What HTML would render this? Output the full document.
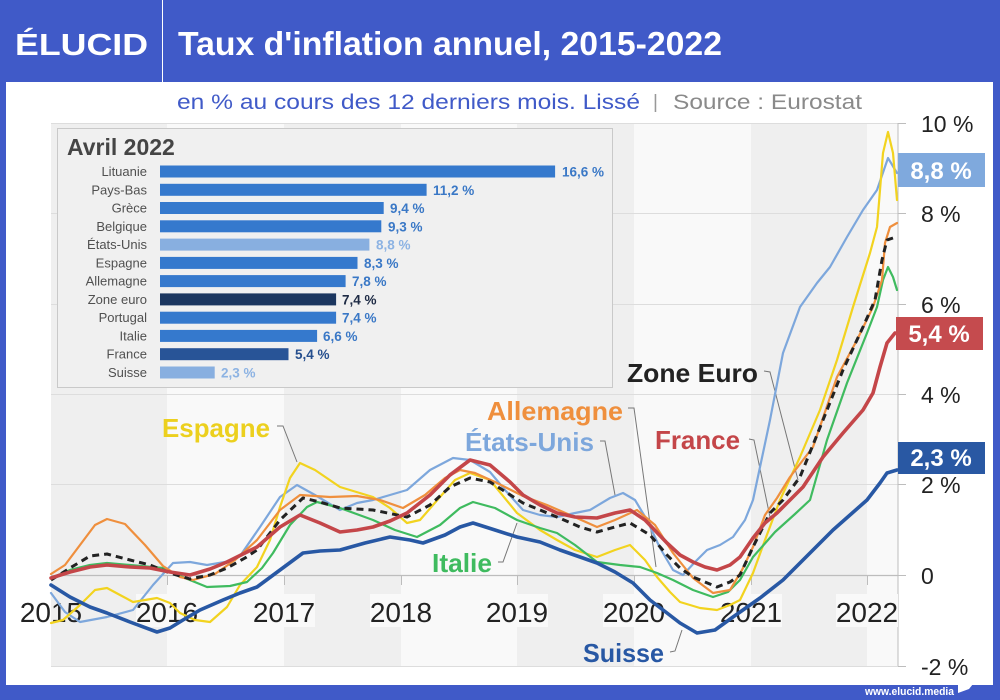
<!DOCTYPE html>
<html>
<head>
<meta charset="utf-8">
<style>
  html,body{margin:0;padding:0;background:#405ac8;}
  svg{display:block;}
  text{font-family:"Liberation Sans",sans-serif;}
</style>
</head>
<body>
<svg width="1000" height="700" viewBox="0 0 1000 700" xmlns="http://www.w3.org/2000/svg">
  <!-- frame -->
  <rect x="0" y="0" width="1000" height="700" fill="#405ac8"/>
  <rect x="6" y="82" width="987" height="603" fill="#ffffff"/>
  <line x1="162.5" y1="0" x2="162.5" y2="82" stroke="#ffffff" stroke-width="1"/>

  <!-- header -->
  <text x="15" y="55" font-size="31" font-weight="bold" fill="#ffffff" textLength="133" lengthAdjust="spacingAndGlyphs">ÉLUCID</text>
  <text x="178" y="55" font-size="33" font-weight="bold" fill="#ffffff" textLength="544" lengthAdjust="spacingAndGlyphs">Taux d'inflation annuel, 2015-2022</text>

  <!-- subtitle -->
  <text x="177" y="109" font-size="21" fill="#405ac8" textLength="463" lengthAdjust="spacingAndGlyphs">en % au cours des 12 derniers mois. Lissé</text>
  <text x="653" y="108" font-size="19" fill="#999999">|</text>
  <text x="673" y="109" font-size="21" fill="#8a8a8a" textLength="189" lengthAdjust="spacingAndGlyphs">Source : Eurostat</text>

  <!-- plot bands -->
  <rect x="51" y="123" width="116" height="543" fill="#efefef"/>
  <rect x="167" y="123" width="117" height="543" fill="#f9f9f9"/>
  <rect x="284" y="123" width="117" height="543" fill="#efefef"/>
  <rect x="401" y="123" width="116" height="543" fill="#f9f9f9"/>
  <rect x="517" y="123" width="117" height="543" fill="#efefef"/>
  <rect x="634" y="123" width="117" height="543" fill="#f9f9f9"/>
  <rect x="751" y="123" width="116" height="543" fill="#efefef"/>
  <rect x="867" y="123" width="31" height="543" fill="#f9f9f9"/>

  <!-- gridlines -->
  <g stroke="#dddddd" stroke-width="1">
    <line x1="51" y1="123.5" x2="898" y2="123.5"/>
    <line x1="51" y1="213.5" x2="898" y2="213.5"/>
    <line x1="51" y1="304.5" x2="898" y2="304.5"/>
    <line x1="51" y1="394.5" x2="898" y2="394.5"/>
    <line x1="51" y1="484.5" x2="898" y2="484.5"/>
    <line x1="51" y1="666.5" x2="898" y2="666.5"/>
  </g>
  <line x1="51" y1="575.5" x2="898" y2="575.5" stroke="#bdbdbd" stroke-width="1.3"/>
  <line x1="898" y1="123" x2="898" y2="666" stroke="#bdbdbd" stroke-width="1"/>
  <g stroke="#bdbdbd" stroke-width="1">
    <line x1="898" y1="123.5" x2="906" y2="123.5"/>
    <line x1="898" y1="213.5" x2="906" y2="213.5"/>
    <line x1="898" y1="304.5" x2="906" y2="304.5"/>
    <line x1="898" y1="394.5" x2="906" y2="394.5"/>
    <line x1="898" y1="484.5" x2="906" y2="484.5"/>
    <line x1="898" y1="575.5" x2="906" y2="575.5"/>
    <line x1="898" y1="666.5" x2="906" y2="666.5"/>
    <line x1="167.5" y1="575" x2="167.5" y2="585"/>
    <line x1="284.5" y1="575" x2="284.5" y2="585"/>
    <line x1="401.5" y1="575" x2="401.5" y2="585"/>
    <line x1="517.5" y1="575" x2="517.5" y2="585"/>
    <line x1="634.5" y1="575" x2="634.5" y2="585"/>
    <line x1="751.5" y1="575" x2="751.5" y2="585"/>
    <line x1="867.5" y1="575" x2="867.5" y2="585"/>
  </g>

  <!-- year label backgrounds -->
  <g fill="#f9f9f9">
    <rect x="136" y="594" width="62" height="33"/>
    <rect x="253" y="594" width="62" height="33"/>
    <rect x="370" y="594" width="62" height="33"/>
    <rect x="486" y="594" width="62" height="33"/>
    <rect x="603" y="594" width="62" height="33"/>
    <rect x="720" y="594" width="62" height="33"/>
    <rect x="836" y="594" width="62" height="33"/>
  </g>
  <g font-size="28" fill="#222222" text-anchor="middle">
    <text x="51" y="622">2015</text>
    <text x="167" y="622">2016</text>
    <text x="284" y="622">2017</text>
    <text x="401" y="622">2018</text>
    <text x="517" y="622">2019</text>
    <text x="634" y="622">2020</text>
    <text x="751" y="622">2021</text>
    <text x="867" y="622">2022</text>
  </g>

  <!-- right axis labels -->
  <g font-size="23" fill="#222222">
    <text x="921" y="132">10 %</text>
    <text x="921" y="222">8 %</text>
    <text x="921" y="313">6 %</text>
    <text x="921" y="403">4 %</text>
    <text x="921" y="493">2 %</text>
    <text x="921" y="584">0</text>
    <text x="921" y="675">-2 %</text>
  </g>

  <!-- inset -->
  <rect x="57.5" y="128.5" width="555" height="259" fill="#f0f0f0" stroke="#c9c9c9" stroke-width="1"/>
  <text x="67" y="155" font-size="23" font-weight="bold" fill="#454545">Avril 2022</text>
  <g font-size="13" fill="#505050" text-anchor="end">
    <text x="147" y="176">Lituanie</text>
    <text x="147" y="194.3">Pays-Bas</text>
    <text x="147" y="212.5">Grèce</text>
    <text x="147" y="230.8">Belgique</text>
    <text x="147" y="249.1">États-Unis</text>
    <text x="147" y="267.4">Espagne</text>
    <text x="147" y="285.6">Allemagne</text>
    <text x="147" y="303.9">Zone euro</text>
    <text x="147" y="322.2">Portugal</text>
    <text x="147" y="340.4">Italie</text>
    <text x="147" y="358.7">France</text>
    <text x="147" y="377">Suisse</text>
  </g>
  <g>
    <rect x="160" y="165.5" width="395.1" height="12" fill="#3579cd"/>
    <rect x="160" y="183.8" width="266.6" height="12" fill="#3579cd"/>
    <rect x="160" y="202" width="223.7" height="12" fill="#3579cd"/>
    <rect x="160" y="220.3" width="221.3" height="12" fill="#3579cd"/>
    <rect x="160" y="238.6" width="209.4" height="12" fill="#88afe0"/>
    <rect x="160" y="256.9" width="197.5" height="12" fill="#3579cd"/>
    <rect x="160" y="275.1" width="185.6" height="12" fill="#3579cd"/>
    <rect x="160" y="293.4" width="176.1" height="12" fill="#1b365f"/>
    <rect x="160" y="311.7" width="176.1" height="12" fill="#3579cd"/>
    <rect x="160" y="329.9" width="157.1" height="12" fill="#3579cd"/>
    <rect x="160" y="348.2" width="128.5" height="12" fill="#285497"/>
    <rect x="160" y="366.5" width="54.7" height="12" fill="#88afe0"/>
  </g>
  <g font-size="13.5" font-weight="bold">
    <text x="562" y="176.5" fill="#3a78c6">16,6 %</text>
    <text x="433" y="194.8" fill="#3a78c6">11,2 %</text>
    <text x="390" y="213" fill="#3a78c6">9,4 %</text>
    <text x="388" y="231.3" fill="#3a78c6">9,3 %</text>
    <text x="376" y="249.6" fill="#8db3e3">8,8 %</text>
    <text x="364" y="267.9" fill="#3a78c6">8,3 %</text>
    <text x="352" y="286.1" fill="#3a78c6">7,8 %</text>
    <text x="342" y="304.4" fill="#1e2b45">7,4 %</text>
    <text x="342" y="322.7" fill="#3a78c6">7,4 %</text>
    <text x="323" y="340.9" fill="#3a78c6">6,6 %</text>
    <text x="295" y="359.2" fill="#264f8e">5,4 %</text>
    <text x="221" y="377.5" fill="#8db3e3">2,3 %</text>
  </g>

  <!-- leader lines -->
  <g stroke="#777777" stroke-width="1" fill="none">
    <polyline points="277,426 283,426 297,462"/>
    <polyline points="628,408 634,408 656,567"/>
    <polyline points="600,441 605,441 615,495"/>
    <polyline points="749,439 754,440 770,517"/>
    <polyline points="764,371 770,372 798,480"/>
    <polyline points="498,562 503,562 517,523"/>
    <polyline points="670,652 675,651 682,630"/>
  </g>

  <!-- series -->
  <g fill="none" stroke-linejoin="round" stroke-linecap="round">
    <!-- Etats-Unis -->
    <polyline stroke="#7da7dc" stroke-width="2.2" points="51,593 65,612 80,622 107,617 133,610 153,585 173,563 190,562 207,565 225,562 240,556 260,527 280,497 297,485 315,495 340,510 357,503 373,500 390,495 407,490 430,470 453,458 470,460 490,472 505,490 523,510 540,515 557,517 575,513 590,510 610,498 623,493 635,500 647,520 660,548 673,570 683,575 695,562 707,550 720,545 733,537 745,520 753,500 770,420 783,353 800,307 817,283 830,267 847,237 863,210 877,190 888,158 897,173"/>
    <!-- Espagne -->
    <polyline stroke="#f2d31f" stroke-width="2.2" points="51,623 63,620 80,605 95,590 107,588 120,595 133,602 157,598 170,603 180,613 195,620 210,622 227,607 240,585 257,567 270,540 280,507 290,478 300,463 315,470 340,487 373,497 390,508 407,523 420,520 440,497 455,480 470,473 490,480 517,513 540,530 557,540 575,550 597,557 615,550 630,545 645,560 657,577 670,592 680,602 700,608 717,610 730,605 740,600 753,573 765,540 780,500 800,457 820,410 837,360 853,307 870,253 877,227 883,153 888,132 893,153 897,200"/>
    <!-- Italie -->
    <polyline stroke="#3fbb5f" stroke-width="2.2" points="51,578 70,570 90,565 107,563 130,565 163,568 185,578 207,587 230,586 247,582 262,568 273,553 290,525 307,507 317,502 340,508 373,520 395,530 417,537 440,525 460,508 473,502 495,508 517,520 540,528 557,533 575,545 597,562 620,565 640,567 657,573 673,580 693,590 713,597 728,592 740,580 753,557 775,532 795,514 810,500 827,440 847,383 867,333 877,307 883,280 888,267 893,277 897,290"/>
    <!-- Allemagne -->
    <polyline stroke="#ef8f3d" stroke-width="2.2" points="51,574 65,565 80,545 95,525 107,519 125,524 145,545 163,566 180,577 193,580 215,574 235,560 257,540 280,510 300,495 330,497 357,496 380,500 403,508 425,495 445,478 460,470 475,473 495,482 523,496 547,505 570,515 597,527 615,520 637,510 655,525 673,553 693,578 713,593 730,590 742,570 753,547 765,515 777,498 790,477 813,447 837,377 857,340 873,307 882,280 885,243 890,227 897,223"/>
    <!-- Zone euro -->
    <polyline stroke="#222222" stroke-width="3" stroke-dasharray="7 5" stroke-linecap="butt" points="51,580 70,568 90,556 107,554 130,560 150,565 170,573 190,579 210,575 227,568 245,558 257,550 280,520 303,498 320,502 340,508 373,510 407,517 430,505 450,487 470,478 490,482 523,503 557,517 580,527 597,532 615,527 630,523 650,535 667,555 680,568 693,577 717,587 730,582 740,575 753,547 770,513 783,500 800,477 823,420 843,370 863,327 875,300 882,260 887,240 893,238"/>
    <!-- France -->
    <polyline stroke="#c44649" stroke-width="3.6" points="51,578 70,572 90,567 107,565 130,567 150,568 170,572 190,575 210,569 227,562 245,553 257,547 280,527 300,515 320,523 340,532 357,530 373,527 390,521 407,513 430,495 450,475 470,460 490,465 510,482 523,495 540,505 557,513 575,517 597,518 615,513 630,510 645,520 667,543 680,555 693,562 705,567 717,570 730,565 740,557 753,538 765,523 777,513 790,500 803,487 823,457 843,433 863,410 873,393 880,367 887,343 895,333"/>
    <!-- Suisse -->
    <polyline stroke="#2858a4" stroke-width="3.6" points="51,585 70,597 90,607 107,613 130,622 157,632 170,628 183,620 200,610 223,600 240,593 257,587 280,570 303,553 320,551 340,550 365,543 390,537 410,540 423,543 445,535 460,527 473,523 495,530 517,537 540,542 560,550 580,557 597,563 615,572 633,583 650,600 667,613 680,623 697,633 715,630 733,617 760,598 783,580 808,555 833,530 850,515 867,500 880,483 887,473 897,470"/>
  </g>

  <!-- series labels -->
  <g font-size="26" font-weight="bold">
    <text x="162" y="437" fill="#ecd01e" textLength="108" lengthAdjust="spacingAndGlyphs">Espagne</text>
    <text x="487" y="420" fill="#ef8f3d" textLength="136" lengthAdjust="spacingAndGlyphs">Allemagne</text>
    <text x="465" y="451" fill="#7da7dc" textLength="129" lengthAdjust="spacingAndGlyphs">États-Unis</text>
    <text x="655" y="449" fill="#c44649" textLength="85" lengthAdjust="spacingAndGlyphs">France</text>
    <text x="627" y="382" fill="#222222" textLength="131" lengthAdjust="spacingAndGlyphs">Zone Euro</text>
    <text x="432" y="572" fill="#3fbb5f" textLength="60" lengthAdjust="spacingAndGlyphs">Italie</text>
    <text x="583" y="662" fill="#2858a4" textLength="81" lengthAdjust="spacingAndGlyphs">Suisse</text>
  </g>

  <!-- value boxes -->
  <rect x="898" y="153" width="87" height="34" fill="#7fa9dd"/>
  <rect x="896" y="317" width="87" height="33" fill="#c54b4e"/>
  <rect x="898" y="442" width="87" height="32" fill="#2958a3"/>
  <g font-size="24" font-weight="bold" fill="#ffffff" text-anchor="middle">
    <text x="941" y="179">8,8 %</text>
    <text x="939" y="342">5,4 %</text>
    <text x="941" y="466">2,3 %</text>
  </g>

  <!-- footer -->
  <text x="865" y="695" font-size="11" font-weight="bold" fill="#ffffff" textLength="89" lengthAdjust="spacingAndGlyphs">www.elucid.media</text>
  <polygon points="958,683 977,679 969,689 958,693" fill="#ffffff"/>
</svg>
</body>
</html>
